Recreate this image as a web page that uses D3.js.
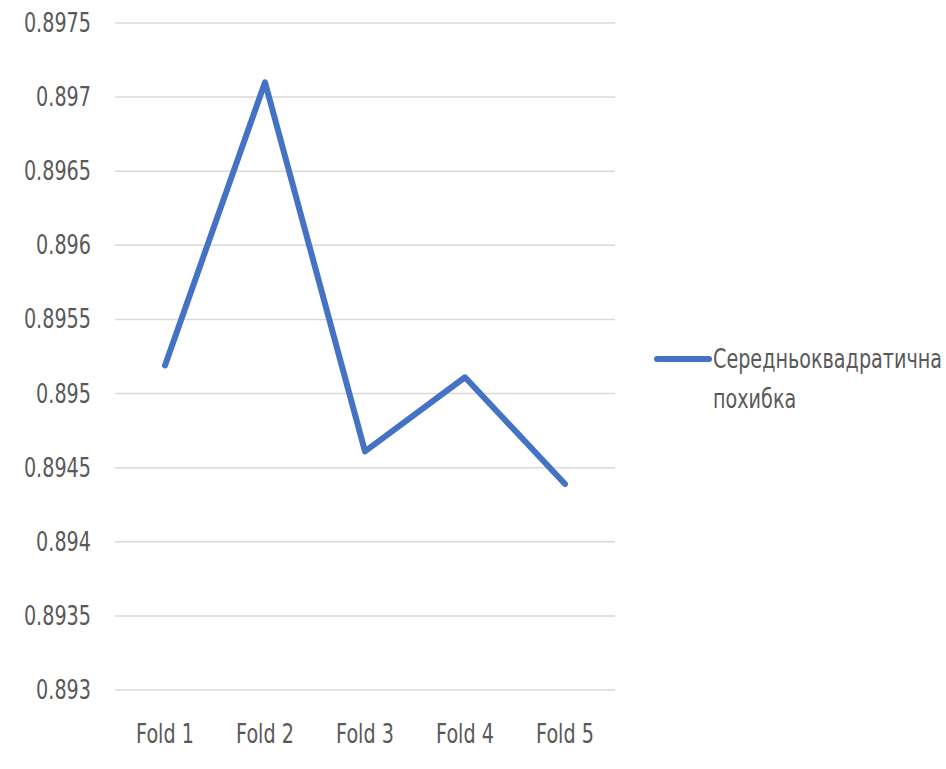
<!DOCTYPE html>
<html>
<head>
<meta charset="utf-8">
<script src="https://cdn.jsdelivr.net/npm/d3@7"></script>
<style>
  body{margin:0;background:#fff}
  text{font-family:"DejaVu Sans Condensed","DejaVu Sans",sans-serif;fill:#595959}
</style>
</head>
<body>
<div id="chart"></div>
<script>
const folds = ["Fold 1","Fold 2","Fold 3","Fold 4","Fold 5"]
const rmse = [0.89519,0.8971,0.89461,0.89511,0.89439]
const yTicks = [0.893,0.8935,0.894,0.8945,0.895,0.8955,0.896,0.8965,0.897,0.8975]
const seriesName = ["Середньоквадратична","похибка"]

drawChart("#chart")

function drawChart(id){
    const canvas = {width:946,height:769,left:115,right:615,top:23,bottom:690}
    const svg = d3.select(id).append("svg").attr("width",canvas.width).attr("height",canvas.height)

    const x = d3.scalePoint().domain(folds).range([canvas.left,canvas.right]).padding(0.5)
    const y = d3.scaleLinear().domain([0.893,0.8975]).range([canvas.bottom,canvas.top])
    const sx = 0.82

    // gridlines
    svg.selectAll(".grid").data(yTicks).enter().append("line")
     .attr("x1",canvas.left).attr("x2",canvas.right)
     .attr("y1",d=>y(d)).attr("y2",d=>y(d))
     .attr("stroke","#d9d9d9").attr("stroke-width",1.5)

    // y labels
    svg.selectAll(".ylab").data(yTicks).enter().append("text")
     .attr("transform",d=>`translate(91,${y(d)+9}) scale(${sx},1)`).attr("text-anchor","end")
     .attr("font-size","26px").text(d=>d)

    // x labels
    svg.selectAll(".xlab").data(folds).enter().append("text")
     .attr("transform",d=>`translate(${x(d)},743) scale(${sx},1)`).attr("text-anchor","middle")
     .attr("font-size","26px").text(d=>d)

    const line = d3.line().x((d,i)=>x(folds[i])).y(d=>y(d))
    svg.append("path").datum(rmse).attr("d",line)
     .attr("fill","none").attr("stroke","#4472c4").attr("stroke-width",6)
     .attr("stroke-linecap","round").attr("stroke-linejoin","round")

    // legend
    svg.append("line").attr("x1",657).attr("x2",709).attr("y1",359).attr("y2",359)
     .attr("stroke","#4472c4").attr("stroke-width",6).attr("stroke-linecap","round")
    svg.selectAll(".leg").data(seriesName).enter().append("text")
     .attr("transform",(d,i)=>`translate(713,${368+i*40}) scale(${sx},1)`)
     .attr("font-size","26px").text(d=>d)
}
</script>
</body>
</html>
